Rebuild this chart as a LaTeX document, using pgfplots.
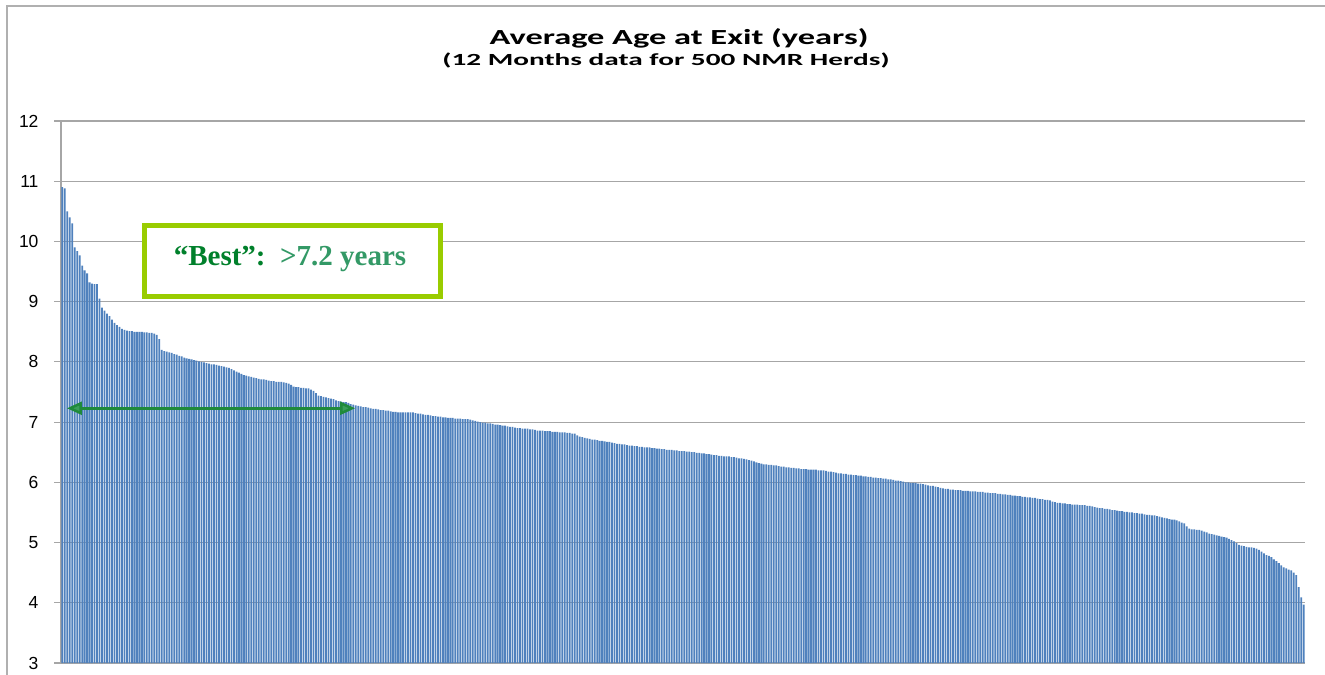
\documentclass[border=0pt]{standalone}
\usepackage{fontspec}
\setmainfont{Liberation Sans}
\newfontfamily\calibri{Carlito}
\newfontfamily\tnr{Liberation Serif}
\usepackage{graphicx}
\usepackage{pgfplots}
\usepackage{pgfplotstable}
\pgfplotsset{compat=1.18}
\usetikzlibrary{arrows.meta}

\definecolor{barblue}{HTML}{4F81BD}
\definecolor{gridgray}{HTML}{A6A6A6}
\definecolor{framegray}{HTML}{B0B0B0}
\definecolor{boxlime}{HTML}{99CC00}
\definecolor{bestgreen}{HTML}{00802B}
\definecolor{yrsgreen}{HTML}{339966}
\definecolor{arrowline}{HTML}{1F8A3B}
\definecolor{arrowfill}{HTML}{3A9E5A}

% average age at exit, 500 herds, sorted high to low
\pgfplotstableread[row sep=\\, header=false]{
10.90\\ 10.88\\ 10.50\\ 10.40\\ 10.30\\ 9.90\\ 9.84\\ 9.77\\ 9.60\\ 9.52\\
9.47\\ 9.32\\ 9.30\\ 9.29\\ 9.29\\ 9.05\\ 8.90\\ 8.85\\ 8.80\\ 8.76\\
8.70\\ 8.65\\ 8.61\\ 8.58\\ 8.55\\ 8.53\\ 8.52\\ 8.51\\ 8.51\\ 8.50\\
8.50\\ 8.50\\ 8.50\\ 8.49\\ 8.49\\ 8.48\\ 8.48\\ 8.47\\ 8.45\\ 8.38\\
8.20\\ 8.18\\ 8.17\\ 8.16\\ 8.15\\ 8.13\\ 8.12\\ 8.10\\ 8.09\\ 8.07\\
8.06\\ 8.05\\ 8.04\\ 8.03\\ 8.02\\ 8.01\\ 8.00\\ 7.99\\ 7.98\\ 7.97\\
7.96\\ 7.96\\ 7.95\\ 7.94\\ 7.93\\ 7.92\\ 7.91\\ 7.90\\ 7.88\\ 7.86\\
7.84\\ 7.82\\ 7.80\\ 7.78\\ 7.77\\ 7.76\\ 7.75\\ 7.74\\ 7.73\\ 7.72\\
7.71\\ 7.71\\ 7.70\\ 7.69\\ 7.68\\ 7.68\\ 7.67\\ 7.67\\ 7.67\\ 7.66\\
7.65\\ 7.64\\ 7.62\\ 7.59\\ 7.58\\ 7.58\\ 7.57\\ 7.57\\ 7.56\\ 7.56\\
7.54\\ 7.52\\ 7.48\\ 7.44\\ 7.43\\ 7.42\\ 7.41\\ 7.40\\ 7.39\\ 7.38\\
7.36\\ 7.35\\ 7.34\\ 7.33\\ 7.33\\ 7.32\\ 7.30\\ 7.29\\ 7.28\\ 7.27\\
7.26\\ 7.25\\ 7.25\\ 7.24\\ 7.23\\ 7.22\\ 7.22\\ 7.21\\ 7.20\\ 7.20\\
7.19\\ 7.19\\ 7.18\\ 7.17\\ 7.17\\ 7.16\\ 7.16\\ 7.16\\ 7.16\\ 7.16\\
7.16\\ 7.16\\ 7.15\\ 7.14\\ 7.14\\ 7.13\\ 7.12\\ 7.12\\ 7.11\\ 7.10\\
7.10\\ 7.09\\ 7.09\\ 7.08\\ 7.08\\ 7.07\\ 7.07\\ 7.07\\ 7.06\\ 7.06\\
7.06\\ 7.05\\ 7.05\\ 7.05\\ 7.04\\ 7.03\\ 7.02\\ 7.01\\ 7.00\\ 6.99\\
6.99\\ 6.98\\ 6.98\\ 6.97\\ 6.96\\ 6.96\\ 6.95\\ 6.94\\ 6.94\\ 6.93\\
6.92\\ 6.92\\ 6.91\\ 6.90\\ 6.90\\ 6.89\\ 6.89\\ 6.89\\ 6.88\\ 6.88\\
6.87\\ 6.86\\ 6.86\\ 6.86\\ 6.85\\ 6.85\\ 6.85\\ 6.84\\ 6.84\\ 6.84\\
6.83\\ 6.83\\ 6.83\\ 6.82\\ 6.82\\ 6.81\\ 6.81\\ 6.78\\ 6.76\\ 6.75\\
6.74\\ 6.73\\ 6.72\\ 6.71\\ 6.71\\ 6.70\\ 6.69\\ 6.69\\ 6.68\\ 6.67\\
6.67\\ 6.66\\ 6.65\\ 6.64\\ 6.64\\ 6.63\\ 6.63\\ 6.62\\ 6.61\\ 6.61\\
6.60\\ 6.60\\ 6.59\\ 6.59\\ 6.58\\ 6.58\\ 6.58\\ 6.57\\ 6.57\\ 6.56\\
6.56\\ 6.55\\ 6.55\\ 6.54\\ 6.54\\ 6.54\\ 6.53\\ 6.53\\ 6.52\\ 6.52\\
6.52\\ 6.51\\ 6.51\\ 6.50\\ 6.50\\ 6.49\\ 6.49\\ 6.48\\ 6.48\\ 6.47\\
6.47\\ 6.46\\ 6.45\\ 6.45\\ 6.44\\ 6.44\\ 6.43\\ 6.43\\ 6.43\\ 6.42\\
6.42\\ 6.41\\ 6.40\\ 6.40\\ 6.39\\ 6.38\\ 6.37\\ 6.36\\ 6.35\\ 6.33\\
6.32\\ 6.31\\ 6.30\\ 6.30\\ 6.29\\ 6.29\\ 6.28\\ 6.28\\ 6.27\\ 6.26\\
6.26\\ 6.25\\ 6.25\\ 6.24\\ 6.24\\ 6.23\\ 6.23\\ 6.22\\ 6.22\\ 6.22\\
6.21\\ 6.21\\ 6.21\\ 6.21\\ 6.20\\ 6.20\\ 6.20\\ 6.19\\ 6.18\\ 6.18\\
6.17\\ 6.16\\ 6.15\\ 6.15\\ 6.14\\ 6.14\\ 6.13\\ 6.13\\ 6.12\\ 6.12\\
6.11\\ 6.11\\ 6.10\\ 6.10\\ 6.09\\ 6.09\\ 6.08\\ 6.08\\ 6.07\\ 6.07\\
6.06\\ 6.06\\ 6.05\\ 6.05\\ 6.04\\ 6.03\\ 6.03\\ 6.02\\ 6.01\\ 6.00\\
6.00\\ 5.99\\ 5.99\\ 5.99\\ 5.98\\ 5.98\\ 5.97\\ 5.96\\ 5.95\\ 5.94\\
5.94\\ 5.93\\ 5.92\\ 5.91\\ 5.90\\ 5.89\\ 5.89\\ 5.88\\ 5.88\\ 5.87\\
5.87\\ 5.87\\ 5.86\\ 5.86\\ 5.86\\ 5.85\\ 5.85\\ 5.85\\ 5.84\\ 5.84\\
5.84\\ 5.83\\ 5.83\\ 5.82\\ 5.82\\ 5.82\\ 5.81\\ 5.81\\ 5.80\\ 5.80\\
5.79\\ 5.79\\ 5.78\\ 5.78\\ 5.77\\ 5.77\\ 5.76\\ 5.76\\ 5.75\\ 5.75\\
5.74\\ 5.74\\ 5.73\\ 5.72\\ 5.72\\ 5.71\\ 5.71\\ 5.70\\ 5.68\\ 5.67\\
5.66\\ 5.66\\ 5.65\\ 5.65\\ 5.64\\ 5.64\\ 5.63\\ 5.63\\ 5.63\\ 5.62\\
5.62\\ 5.62\\ 5.61\\ 5.61\\ 5.60\\ 5.59\\ 5.58\\ 5.57\\ 5.57\\ 5.56\\
5.56\\ 5.55\\ 5.54\\ 5.54\\ 5.53\\ 5.52\\ 5.52\\ 5.51\\ 5.51\\ 5.50\\
5.50\\ 5.49\\ 5.49\\ 5.48\\ 5.48\\ 5.47\\ 5.46\\ 5.46\\ 5.45\\ 5.45\\
5.44\\ 5.43\\ 5.42\\ 5.41\\ 5.40\\ 5.39\\ 5.38\\ 5.38\\ 5.37\\ 5.35\\
5.33\\ 5.32\\ 5.27\\ 5.23\\ 5.22\\ 5.22\\ 5.21\\ 5.21\\ 5.20\\ 5.18\\
5.17\\ 5.15\\ 5.14\\ 5.13\\ 5.12\\ 5.11\\ 5.10\\ 5.09\\ 5.08\\ 5.06\\
5.04\\ 5.02\\ 4.99\\ 4.96\\ 4.95\\ 4.94\\ 4.93\\ 4.92\\ 4.92\\ 4.91\\
4.90\\ 4.88\\ 4.85\\ 4.82\\ 4.79\\ 4.78\\ 4.76\\ 4.72\\ 4.69\\ 4.66\\
4.62\\ 4.59\\ 4.57\\ 4.55\\ 4.54\\ 4.50\\ 4.46\\ 4.26\\ 4.09\\ 3.97\\
}\agedata

\begin{document}
\begin{tikzpicture}
\path[use as bounding box] (0,0) rectangle (1325bp,-675bp);
% chart frame (runs off the page on the right and bottom)
\draw[framegray, line width=1.3bp] (7bp,-700bp) -- (7bp,-6bp) -- (1340bp,-6bp);

\begin{axis}[
    at={(61bp,-663bp)}, anchor=south west,
    scale only axis, width=1244bp, height=542bp,
    ymin=3, ymax=12, ytick={3,...,12},
    xmin=-0.5, xmax=499.5, xtick=\empty,
    ybar, bar width=0.72,
    axis x line*=bottom, axis y line*=left,
    axis line style={gridgray, line width=1.3bp},
    ymajorgrids, grid style={gridgray, line width=1.2bp},
    major tick length=7bp, tick align=outside,
    ytick style={gridgray, line width=1.2bp},
    tick label style={font=\fontsize{17.5bp}{20bp}\selectfont},
    /pgf/number format/assume math mode=true,
    yticklabel style={xshift=-12bp},
  ]
  \addplot[fill=barblue, draw=none] table[x expr=\coordindex, y index=0]{\agedata};
  \draw[arrowline, line width=2.5bp,
    {Triangle[length=15bp, width=13bp, fill=arrowfill]}-{Triangle[length=15bp, width=13bp, fill=arrowfill]}]
    (axis cs:1.9,7.23) -- (axis cs:117.7,7.23);
\end{axis}

\node[anchor=base, font=\calibri\bfseries\fontsize{21.5bp}{24bp}\selectfont]
  at (679bp,-44bp) {\scalebox{1.6}[1]{Average Age at Exit (years)}};
\node[anchor=base, font=\calibri\bfseries\fontsize{17bp}{20bp}\selectfont]
  at (666bp,-65bp) {\scalebox{1.72}[1]{(12 Months data for 500 NMR Herds)}};

\node[draw=boxlime, fill=white, line width=5bp, minimum width=296bp,
  minimum height=71bp, inner sep=0] at (292.5bp,-261bp) {};
\node[anchor=base, font=\tnr\bfseries\fontsize{29bp}{32bp}\selectfont]
  at (290bp,-265bp) {\textcolor{bestgreen}{“Best”:}\ \ \textcolor{yrsgreen}{>7.2 years}};
\end{tikzpicture}
\end{document}
